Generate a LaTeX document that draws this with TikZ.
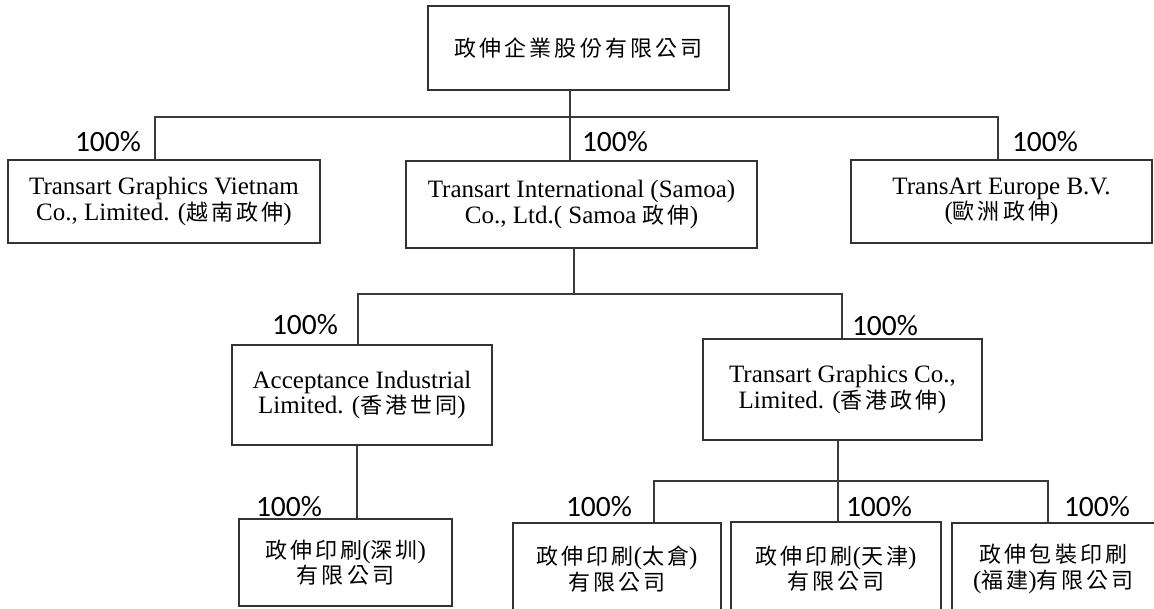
\documentclass[tikz,border=0pt]{standalone}
\usepackage{fontspec}
\setmainfont{Liberation Serif}
\newfontfamily\cjkfont[LetterSpace=14]{Noto Sans CJK TC}
\newfontfamily\pctfont{Carlito}
\newcommand\zhtxt[1]{{\cjkfont\fontsize{22}{25.5}\selectfont #1}}
\definecolor{boxc}{HTML}{333333}
\definecolor{linec}{HTML}{3A3A3A}
\tikzset{
  box/.style={draw=boxc, line width=1.6pt, inner sep=0pt, align=center,
    font=\fontsize{25}{25.5}\selectfont},
  conn/.style={draw=linec, line width=1.5pt},
  pct/.style={inner sep=0pt, font=\pctfont\fontsize{29.5}{30}\selectfont, text=black}
}
\begin{document}
\begin{tikzpicture}[x=1pt,y=-1pt]
\fill[white] (0,0) rectangle (1154,609);
\useasboundingbox (0,0) rectangle (1154,609);

% boxes
\node[box, minimum width=301, minimum height=84] (top) at (578.5,48) {\zhtxt{政伸企業股份有限公司}};
\node[box, minimum width=312, minimum height=83] (viet) at (164,201.5)
  {Transart Graphics Vietnam\\Co., Limited. (\zhtxt{越南政伸})};
\node[box, minimum width=351, minimum height=87] (samoa) at (581.5,204.5)
  {Transart International (Samoa)\\Co., Ltd.( Samoa \zhtxt{政伸})};
\node[box, minimum width=301, minimum height=83] (europe) at (1001.5,201.5)
  {TransArt Europe B.V.\\(\zhtxt{歐洲政伸})};
\node[box, minimum width=260, minimum height=100] (acc) at (362,395)
  {Acceptance Industrial\\Limited. (\zhtxt{香港世同})};
\node[box, minimum width=279, minimum height=101] (hk) at (842.5,389.5)
  {Transart Graphics Co.,\\Limited. (\zhtxt{香港政伸})};
\node[box, minimum width=213, minimum height=87] (shz) at (345.5,562.5)
  {\zhtxt{政伸印刷}(\zhtxt{深圳})\\\zhtxt{有限公司}};
\node[box, minimum width=208, minimum height=92] (tc) at (617,569)
  {\zhtxt{政伸印刷}(\zhtxt{太倉})\\\zhtxt{有限公司}};
\node[box, minimum width=210, minimum height=93] (tj) at (836,568.5)
  {\zhtxt{政伸印刷}(\zhtxt{天津})\\\zhtxt{有限公司}};
\node[box, minimum width=203, minimum height=92] (fj) at (1053.5,569)
  {\zhtxt{政伸包裝印刷}\\(\zhtxt{福建})\zhtxt{有限公司}};

% connectors level 1
\coordinate (b1L) at (155,117);
\coordinate (b1R) at (998,117);
\coordinate (t1) at (570,117);
\draw[conn] (top.south -| t1) -- (samoa.north -| t1);
\draw[conn] (viet.north -| b1L) -- (b1L) -- (b1R) -- (europe.north -| b1R);

% connectors level 2
\coordinate (b2L) at (358,294);
\coordinate (b2R) at (842,294);
\coordinate (t2) at (574,294);
\draw[conn] (samoa.south -| t2) -- (t2);
\draw[conn] (acc.north -| b2L) -- (b2L) -- (b2R) -- (hk.north -| b2R);

% connectors level 3
\coordinate (t3) at (357,480);
\draw[conn] (acc.south -| t3) -- (shz.north -| t3);
\coordinate (b3L) at (654,481);
\coordinate (b3R) at (1048,481);
\coordinate (t4) at (838,481);
\draw[conn] (hk.south -| t4) -- (tj.north -| t4);
\draw[conn] (tc.north -| b3L) -- (b3L) -- (b3R) -- (fj.north -| b3R);

% percentages
\node[pct] (p1) at (108,142) {100\%};
\node[pct] (p2) at (615,142) {100\%};
\node[pct] (p3) at (1045,142) {100\%};
\node[pct] (p4) at (305,325) {100\%};
\node[pct] (p5) at (885,326) {100\%};
\node[pct] (p6) at (289,507) {100\%};
\node[pct] (p7) at (599,507) {100\%};
\node[pct] (p8) at (879,507) {100\%};
\node[pct] (p9) at (1097,507) {100\%};
\end{tikzpicture}
\end{document}
